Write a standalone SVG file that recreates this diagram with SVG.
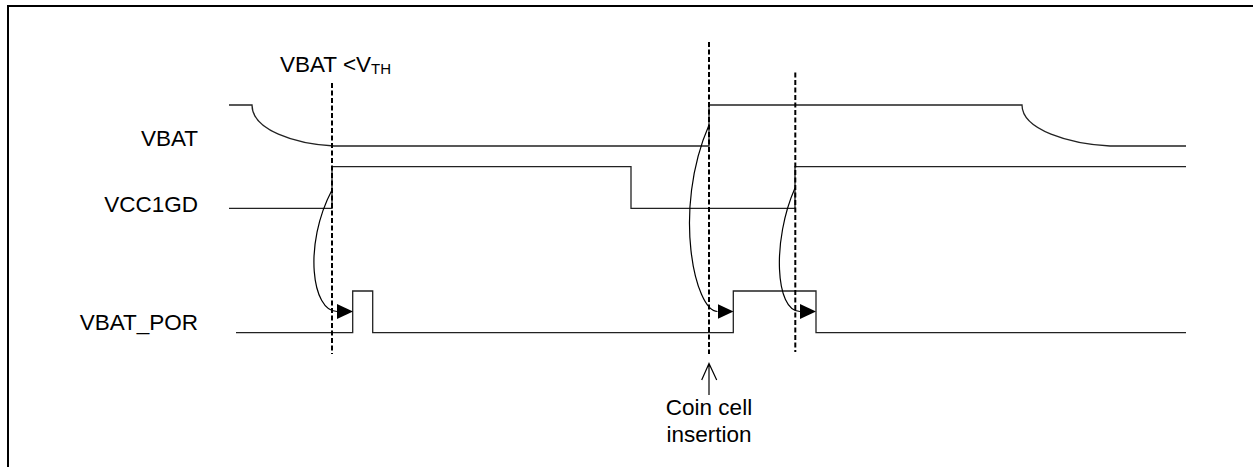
<svg xmlns="http://www.w3.org/2000/svg" width="1253" height="467" viewBox="0 0 1253 467">
<style>
.lbl{font-family:"Liberation Sans",Arial,sans-serif;font-size:22.5px;fill:#000}
.wave{fill:none;stroke:#222;stroke-width:1.3}
.dash{fill:none;stroke:#000;stroke-width:2;stroke-dasharray:5,2.5}
.curve{fill:none;stroke:#000;stroke-width:1.2}
</style>
<defs>
<marker id="ah" markerUnits="userSpaceOnUse" markerWidth="17" markerHeight="16" refX="0" refY="7.5" orient="auto">
<path d="M0,0 L16,7.5 L0,15 z" fill="#000"/>
</marker>
</defs>
<rect x="8" y="6" width="1300" height="500" fill="none" stroke="#000" stroke-width="2"/>
<g id="labels">
<text class="lbl" x="198" y="146" text-anchor="end">VBAT</text>
<text class="lbl" x="198" y="211.5" text-anchor="end">VCC1GD</text>
<text class="lbl" x="198" y="330" text-anchor="end">VBAT_POR</text>
<text class="lbl" x="280" y="72.3">VBAT &lt;V<tspan font-size="15" dy="2">TH</tspan></text>
</g>
<g id="vbat">
<path class="wave" d="M229,105 H252 C252,130 295,144 334,146 H709 V105 H1022 C1022,130 1070,144 1110,146 H1186"/>
</g>
<g id="vcc1gd">
<path class="wave" d="M229,208.3 H332 V166.7 H631 V208.3 H795 V166.7 H1186"/>
</g>
<g id="vbat_por">
<path class="wave" d="M236,332.7 H352.7 V291 H372.7 V332.7 H733.3 V291 H816 V332.7 H1186"/>
</g>
<g id="markers">
<line class="dash" x1="332" y1="83" x2="332" y2="354"/>
<line class="dash" x1="709" y1="42" x2="709" y2="354"/>
<line class="dash" x1="795.3" y1="72.5" x2="795.3" y2="352"/>
</g>
<g id="connectors">
<path class="curve" d="M332,190 C303,245 312,311.5 337,311.5" marker-end="url(#ah)"/>
<path class="curve" d="M709,125 C672,210 695,311.5 717.5,311.5" marker-end="url(#ah)"/>
<path class="curve" d="M795,188 C772,240 775,311.5 800,311.5" marker-end="url(#ah)"/>
<path class="curve" d="M709,395 V363.5 M701.7,380 L709,363.5 L716.7,380"/>
</g>
<g id="coin">
<text class="lbl" x="709" y="415" text-anchor="middle">Coin cell</text>
<text class="lbl" x="709" y="442.3" text-anchor="middle">insertion</text>
</g>
</svg>
